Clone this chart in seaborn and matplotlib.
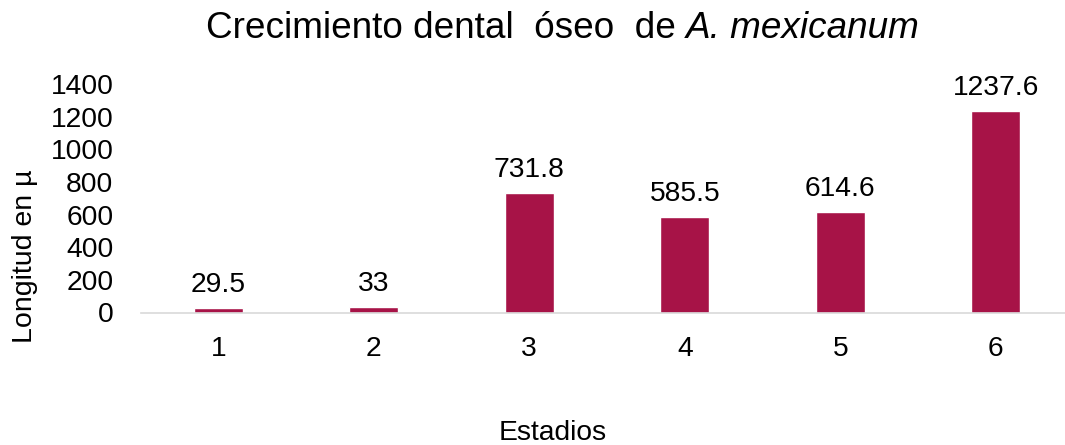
import matplotlib
matplotlib.use("Agg")
import matplotlib.pyplot as plt
import seaborn as sns
import pandas as pd

# Data: dental bone growth by stage
estadios = ["1", "2", "3", "4", "5", "6"]
longitud = [29.5, 33, 731.8, 585.5, 614.6, 1237.6]
etiquetas = ["29.5", "33", "731.8", "585.5", "614.6", "1237.6"]

sns.set_theme(style="white")
plt.rcParams["font.family"] = ["Liberation Sans", "DejaVu Sans"]
plt.rcParams["text.color"] = "#000000"

df = pd.DataFrame({"Estadios": estadios, "Longitud": longitud})

W, H = 1065, 445
fig = plt.figure(figsize=(W / 100, H / 100), dpi=100)
ax = fig.add_axes([140.5 / W, 1 - 312.5 / H, 933 / W, 228.3 / H])

sns.barplot(data=df, x="Estadios", y="Longitud", color="#A71347",
            saturation=1, width=0.313, ax=ax)

ax.set_xlim(-0.5, 5.5)
ax.set_ylim(0, 1400)
ax.set_yticks(range(0, 1401, 200))
ax.tick_params(axis="both", labelsize=20.3, length=0, colors="#000000")
ax.tick_params(axis="x", pad=17)
ax.tick_params(axis="y", pad=19.5)

for side in ["top", "right", "left"]:
    ax.spines[side].set_visible(False)
ax.spines["bottom"].set_color("#D9D9D9")
ax.spines["bottom"].set_linewidth(1.2)

for patch, txt in zip(ax.patches, etiquetas):
    ax.annotate(txt, (patch.get_x() + patch.get_width() / 2, patch.get_height()),
                xytext=(0, 11.5), textcoords="offset points",
                ha="center", va="baseline", fontsize=20.3, color="#000000")

ax.set_xlabel("")
ax.set_ylabel("")
fig.text(552.5 / W, 1 - 440 / H, "Estadios", ha="center", va="baseline",
         fontsize=20.3)
fig.text(25 / W, 1 - 256 / H, "Longitud en µ", ha="center", va="center",
         rotation=90, fontsize=20.5)

# Title: regular part followed by italic species name
fig.canvas.draw()
renderer = fig.canvas.get_renderer()
t1 = fig.text(0, 1 - 38 / H, "Crecimiento dental  óseo  de ", ha="left",
              va="baseline", fontsize=26.6)
t2 = fig.text(0, 1 - 38 / H, "A. mexicanum", ha="left", va="baseline",
              fontsize=26.6, style="italic")
w1 = t1.get_window_extent(renderer).width
w2 = t2.get_window_extent(renderer).width
x0 = 562.5 - (w1 + w2) / 2
t1.set_x(x0 / fig.bbox.width)
t2.set_x((x0 + w1) / fig.bbox.width)

fig.savefig("out.png", dpi=100)
